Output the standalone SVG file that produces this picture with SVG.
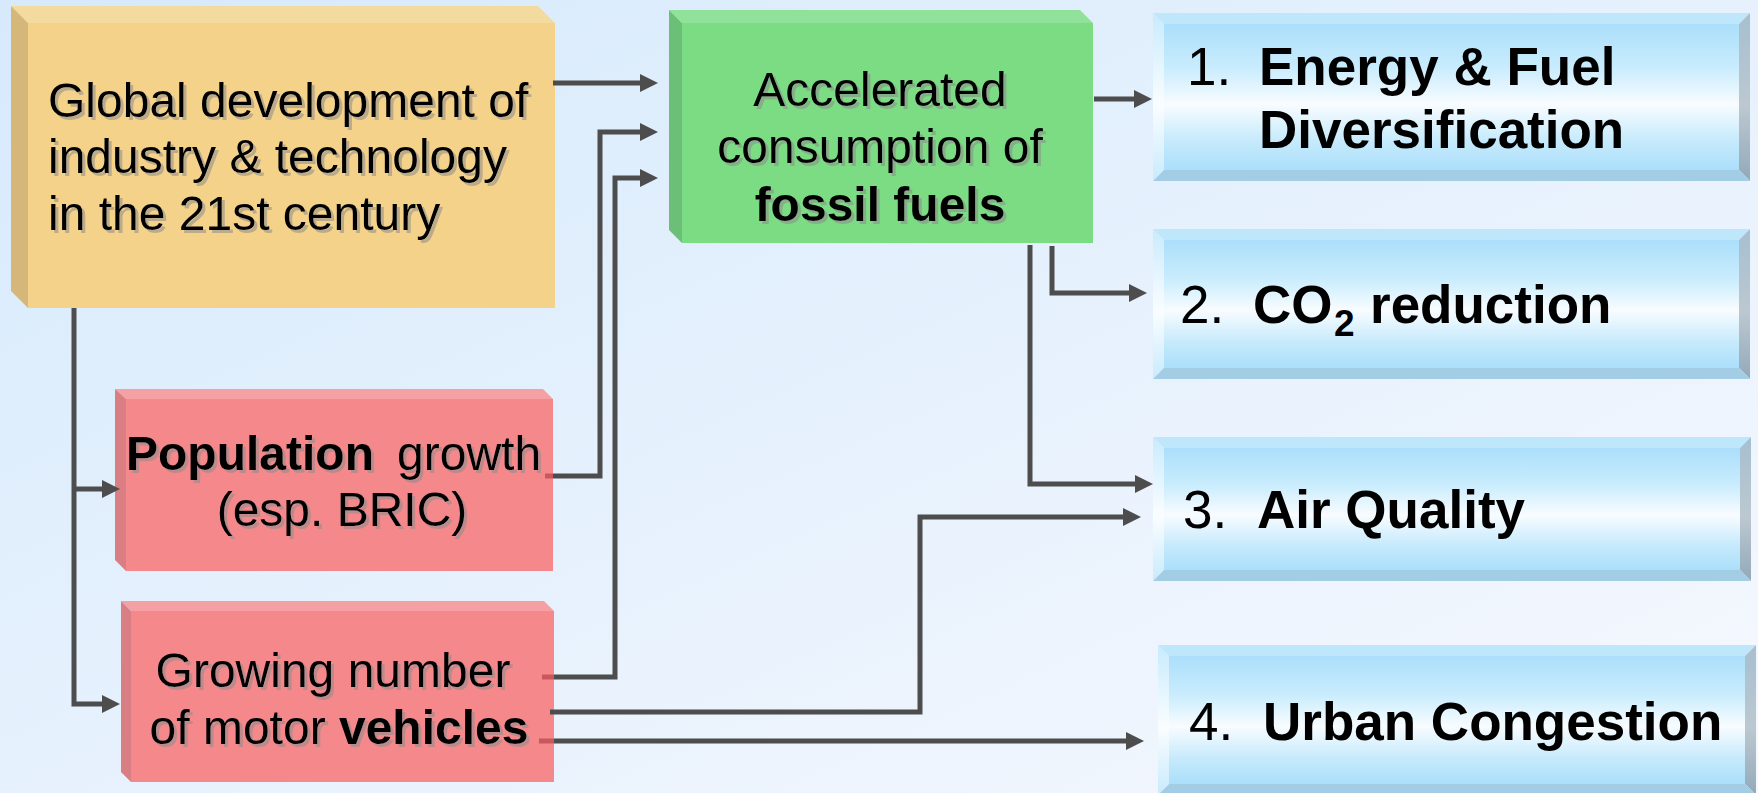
<svg xmlns="http://www.w3.org/2000/svg" width="1758" height="793" viewBox="0 0 1758 793">
<defs>
  <linearGradient id="bg" x1="0" y1="0" x2="1" y2="1">
    <stop offset="0" stop-color="#D6EAFC"/>
    <stop offset="1" stop-color="#F6F8FE"/>
  </linearGradient>
  <linearGradient id="bfront" x1="0" y1="0" x2="0" y2="1">
    <stop offset="0" stop-color="#ABDFFB"/>
    <stop offset="0.3" stop-color="#C9ECFD"/>
    <stop offset="0.55" stop-color="#F8FCFF"/>
    <stop offset="0.8" stop-color="#C6EAFC"/>
    <stop offset="1" stop-color="#ABDFFB"/>
  </linearGradient>
  <linearGradient id="bleft" x1="0" y1="0" x2="0" y2="1">
    <stop offset="0" stop-color="#C8EBFD"/>
    <stop offset="0.55" stop-color="#FAFDFF"/>
    <stop offset="1" stop-color="#C8EBFD"/>
  </linearGradient>
  <linearGradient id="bright" x1="0" y1="0" x2="0" y2="1">
    <stop offset="0" stop-color="#A6BFCF"/>
    <stop offset="0.55" stop-color="#BCC8D1"/>
    <stop offset="1" stop-color="#93A9B9"/>
  </linearGradient>
  <filter id="ts" x="-5%" y="-20%" width="110%" height="140%">
    <feDropShadow dx="3" dy="3" stdDeviation="0.6" flood-color="#8A8A8A" flood-opacity="0.55"/>
  </filter>
  <marker id="ah" viewBox="0 0 18 18" markerWidth="18" markerHeight="18" refX="8" refY="9" orient="auto" markerUnits="userSpaceOnUse">
    <path d="M0,0 L18,9 L0,18 z" fill="#4D4D4D"/>
  </marker>
  <style>
    .t { font-family: "Liberation Sans", Arial, sans-serif; font-size: 48px; fill: #000; }
    .tb { font-family: "Liberation Sans", Arial, sans-serif; font-size: 53px; fill: #000; }
    .b { font-weight: bold; }
    .sh { filter: url(#ts); }
    .btop { fill: #BEE7FC; }
    .bbot { fill: #A3CDE5; }
    .bl { fill: url(#bleft); }
    .br { fill: url(#bright); }
    .bf { fill: url(#bfront); }
    .conn { fill: none; stroke: #4D4D4D; stroke-width: 5; stroke-linejoin: miter; }
    .stub { stroke: #C9585C; stroke-width: 5; }
  </style>
</defs>

<rect x="0" y="0" width="1758" height="793" fill="url(#bg)"/>

<!-- Yellow node -->
<g id="global-dev">
  <polygon points="11,6 538,6 555,23 28,23" fill="#F3DA9F"/>
  <polygon points="11,6 28,23 28,308 11,291" fill="#D6B77A"/>
  <rect x="28" y="23" width="527" height="285" fill="#F5D28A"/>
  <g class="t sh">
    <text x="48" y="117">Global development of</text>
    <text x="48" y="173">industry &amp; technology</text>
    <text x="48" y="230">in the 21st century</text>
  </g>
</g>

<!-- Green node -->
<g id="fossil">
  <polygon points="669,10 1080,10 1093,23 682,23" fill="#90E29A"/>
  <polygon points="669,10 682,23 682,243 669,230" fill="#6CBF76"/>
  <rect x="682" y="23" width="411" height="220" fill="#7BDC84"/>
  <g class="t sh" text-anchor="middle">
    <text x="880" y="106">Accelerated</text>
    <text x="880" y="163">consumption of</text>
    <text x="880" y="221" class="b">fossil fuels</text>
  </g>
</g>

<!-- Population node -->
<g id="population">
  <polygon points="115,389 543,389 553,399 126,399" fill="#F5A0A3"/>
  <polygon points="115,389 126,399 126,571 115,560" fill="#D97E82"/>
  <rect x="126" y="399" width="427" height="172" fill="#F5888B"/>
  <g class="t sh">
    <text y="470"><tspan x="126" class="b">Population</tspan><tspan x="397">growth</tspan></text>
    <text x="342" y="526" text-anchor="middle">(esp. BRIC)</text>
  </g>
</g>

<!-- Vehicles node -->
<g id="vehicles">
  <polygon points="121,601 544,601 554,611 131,611" fill="#F5A0A3"/>
  <polygon points="121,601 131,611 131,782 121,772" fill="#D97E82"/>
  <rect x="131" y="611" width="423" height="171" fill="#F5888B"/>
  <g class="t sh" text-anchor="middle">
    <text x="333" y="687">Growing number</text>
    <text x="339" y="744">of motor <tspan class="b">vehicles</tspan></text>
  </g>
</g>

<!-- Blue node 1 -->
<g id="energy">
  <rect class="bf" x="1164" y="24" width="575" height="146"/>
  <polygon class="btop" points="1153,13 1750,13 1739,24 1164,24"/>
  <polygon class="bl" points="1153,13 1164,24 1164,170 1153,181"/>
  <polygon class="br" points="1750,13 1750,181 1739,170 1739,24"/>
  <polygon class="bbot" points="1153,181 1164,170 1739,170 1750,181"/>
  <text class="tb" x="1187" y="85">1.</text>
  <text class="tb b" x="1259" y="85">Energy &amp; Fuel</text>
  <text class="tb b" x="1259" y="148">Diversification</text>
</g>

<!-- Blue node 2 -->
<g id="co2">
  <rect class="bf" x="1164" y="240" width="575" height="128"/>
  <polygon class="btop" points="1153,229 1750,229 1739,240 1164,240"/>
  <polygon class="bl" points="1153,229 1164,240 1164,368 1153,379"/>
  <polygon class="br" points="1750,229 1750,379 1739,368 1739,240"/>
  <polygon class="bbot" points="1153,379 1164,368 1739,368 1750,379"/>
  <text class="tb" x="1180" y="323">2.</text>
  <text class="tb b" y="323"><tspan x="1253">CO</tspan><tspan x="1334" y="336" font-size="37">2</tspan><tspan x="1370" y="323">reduction</tspan></text>
</g>

<!-- Blue node 3 -->
<g id="air">
  <rect class="bf" x="1164" y="448" width="576" height="122"/>
  <polygon class="btop" points="1153,437 1751,437 1740,448 1164,448"/>
  <polygon class="bl" points="1153,437 1164,448 1164,570 1153,581"/>
  <polygon class="br" points="1751,437 1751,581 1740,570 1740,448"/>
  <polygon class="bbot" points="1153,581 1164,570 1740,570 1751,581"/>
  <text class="tb" x="1183" y="528">3.</text>
  <text class="tb b" x="1257" y="528">Air Quality</text>
</g>

<!-- Blue node 4 -->
<g id="urban">
  <rect class="bf" x="1169" y="656" width="576" height="128"/>
  <polygon class="btop" points="1158,645 1756,645 1745,656 1169,656"/>
  <polygon class="bl" points="1158,645 1169,656 1169,784 1158,795"/>
  <polygon class="br" points="1756,645 1756,795 1745,784 1745,656"/>
  <polygon class="bbot" points="1158,795 1169,784 1745,784 1756,795"/>
  <text class="tb" x="1189" y="740">4.</text>
  <text class="tb b" x="1263" y="740">Urban Congestion</text>
</g>

<!-- Connectors -->
<g id="connectors">
  <path class="conn" d="M553,83 H648" marker-end="url(#ah)"/>
  <path class="conn" d="M553,476 H600 V132 H648" marker-end="url(#ah)"/>
  <path class="conn" d="M554,677 H615 V178 H648" marker-end="url(#ah)"/>
  <path class="conn" d="M550,712 H920 V517 H1131" marker-end="url(#ah)"/>
  <path class="conn" d="M554,741 H1134" marker-end="url(#ah)"/>
  <path class="conn" d="M1030,245 V484 H1143" marker-end="url(#ah)"/>
  <path class="conn" d="M1052,246 V293 H1137" marker-end="url(#ah)"/>
  <path class="conn" d="M1094,99 H1142" marker-end="url(#ah)"/>
  <path class="conn" d="M74,308 V704 H110" marker-end="url(#ah)"/>
  <path class="conn" d="M74,489 H110" marker-end="url(#ah)"/>
  <line class="stub" x1="545" y1="476" x2="553" y2="476"/>
  <line class="stub" x1="542" y1="677" x2="554" y2="677"/>
  <line class="stub" x1="539" y1="741" x2="554" y2="741"/>
</g>
</svg>
